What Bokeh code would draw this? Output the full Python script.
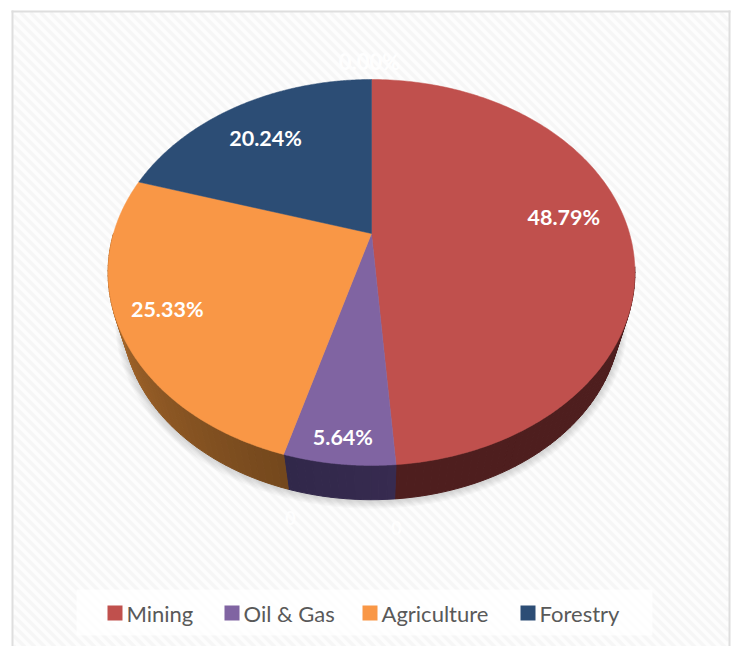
import numpy as np
from bokeh.embed import file_html
from bokeh.resources import INLINE
from bokeh.plotting import figure
from bokeh.models import Range1d
from bokeh.core.properties import value

categories = ["Mining", "Oil & Gas", "Agriculture", "Forestry"]
shares = [48.79, 5.64, 25.33, 20.24]
labels = ["48.79%", "5.64%", "25.33%", "20.24%"]
top_colors = ["#c0504d", "#8064a2", "#f99746", "#2c4d75"]
wall_left = ["#4c1e1e", "#372b50", "#b4702f", "#1a2e46"]
wall_right = ["#4f1f1f", "#31284a", "#74481d", "#1a2e46"]
hidden_labels = ["0.00%", "0", "0"]

W, H = 731, 646
p = figure(width=W, height=H, output_backend="svg", toolbar_location=None,
           x_range=Range1d(0, W), y_range=Range1d(H, 0),
           min_border=0, outline_line_color=None, background_fill_color="#ffffff",
           border_fill_color="#ffffff")
p.axis.visible = False
p.grid.visible = False

# page background: frame and faint diagonal weave
p.quad(left=11, right=730, top=10, bottom=646, fill_color="#fdfdfd", line_color=None)
off = np.arange(-640, 730, 10.0)
xs_bg = [[max(o, 13), min(o + 640, 728)] for o in off]
ys_bg = [[xx[0] - o + 12, xx[1] - o + 12] for xx, o in zip(xs_bg, off)]
keep = [i for i, xx in enumerate(xs_bg) if xx[1] > xx[0]]
p.multi_line(xs=[xs_bg[i] for i in keep], ys=[ys_bg[i] for i in keep],
             line_color="#f6f6f6", line_width=3.5)
p.segment(x0=[12, 11, 729], y0=[10, 11, 10], x1=[12, 730, 729], y1=[646, 11, 646],
          line_color="#dedede", line_width=2)


# perspective projection of the unit pie disc to the page
CX, CY, KX, KY, B = 371.0, 233.0, 258.0, 185.1, 0.202
S, D = 0.945, 47.0


def project(angle_deg, f=1.0, s=1.0, d=0.0):
    t = np.radians(angle_deg)
    x, y = f * np.sin(t), f * np.cos(t)
    w = 1 + B * y
    return CX + s * KX * x / w, CY - s * KY * y / w + d


edges = np.concatenate([[0.0], np.cumsum(shares)]) / sum(shares) * 360.0

# soft shadow under the disc (front part only shows)
circle = np.linspace(0, 360, 361)
for k in [7, 6, 5, 4, 3, 2, 1]:
    sx, sy = project(circle, s=S + k / 250.0, d=D + k * 0.35)
    p.patch(sx, sy, fill_color="#555555", fill_alpha=0.035, line_color=None)

# side walls (front of the disc), in thin strips so the shade can run along them
for i in range(len(shares)):
    lo, hi = max(edges[i], 100.0), min(edges[i + 1], 270.0)
    if hi <= lo:
        continue
    a = np.append(np.arange(lo, hi, 1.5), hi)
    c0 = np.array([int(wall_left[i][j:j + 2], 16) for j in (1, 3, 5)], float)
    c1 = np.array([int(wall_right[i][j:j + 2], 16) for j in (1, 3, 5)], float)
    xs, ys, cols = [], [], []
    for a0, a1 in zip(a[:-1], a[1:]):
        x0, y0 = project(a0)
        x1, y1 = project(a1)
        x2, y2 = project(a1, s=S, d=D)
        x3, y3 = project(a0, s=S, d=D)
        xs.append([x0, x1, x2, x3])
        ys.append([y0, y1, y2, y3])
        u = (a0 - edges[i]) / max(edges[i + 1] - edges[i], 1e-6)
        if i == 2:
            u = 1 - np.clip((a0 - 195) / 75.0, 0, 1)
        c = c0 * (1 - u) + c1 * u
        cols.append("#%02x%02x%02x" % tuple(int(v) for v in c))
    p.patches(xs, ys, fill_color=cols, line_color=cols, line_width=1.0)

# top face
xs, ys = [], []
for i in range(len(shares)):
    a = np.linspace(edges[i], edges[i + 1], 180)
    rx, ry = project(a)
    xs.append([CX] + list(rx))
    ys.append([CY] + list(ry))
p.patches(xs, ys, fill_color=top_colors, line_color=top_colors, line_width=0.5)

# slice labels: along the bisector, at the fraction of the radius the reference uses
label_f = [0.75, 0.90, 0.81, 0.73]
label_dx = [0, 0, -5, -6]
label_dy = [-11, 1, -2, 2]
for i, lab in enumerate(labels):
    mid = (edges[i] + edges[i + 1]) / 2
    lx, ly = project(mid, f=label_f[i])
    p.text(x=[lx + label_dx[i]], y=[ly + label_dy[i]], text=[lab], text_color="#ffffff",
           text_font=value("Lato"), text_font_style="bold", text_font_size="21.5px",
           text_align="center", text_baseline="middle")

# near-invisible white labels of the zero-valued slices
for t, hx, hy, size, alpha in zip(hidden_labels, [369, 290, 396], [61, 517, 527], [22, 18, 18], [0.95, 0.9, 0.9]):
    p.text(x=[hx], y=[hy], text=[t], text_color="#ffffff", text_alpha=alpha,
           text_font=value("Lato"), text_font_style="bold", text_font_size=f"{size}px",
           text_align="center", text_baseline="middle")

# legend
p.quad(left=76, right=652, top=589, bottom=635, fill_color="#ffffff", fill_alpha=0.8, line_color=None)
swatch_x = [107, 224, 362, 520]
for c, sx, col in zip(categories, swatch_x, top_colors):
    p.quad(left=sx, right=sx + 15, top=605, bottom=620, fill_color=col, line_color=None)
    p.text(x=[sx + 19], y=[612.5], text=[c], text_color="#595959", text_font=value("Lato"),
           text_font_size="22px", text_align="left", text_baseline="middle")

open("out.html", "w").write(file_html(p, INLINE))
